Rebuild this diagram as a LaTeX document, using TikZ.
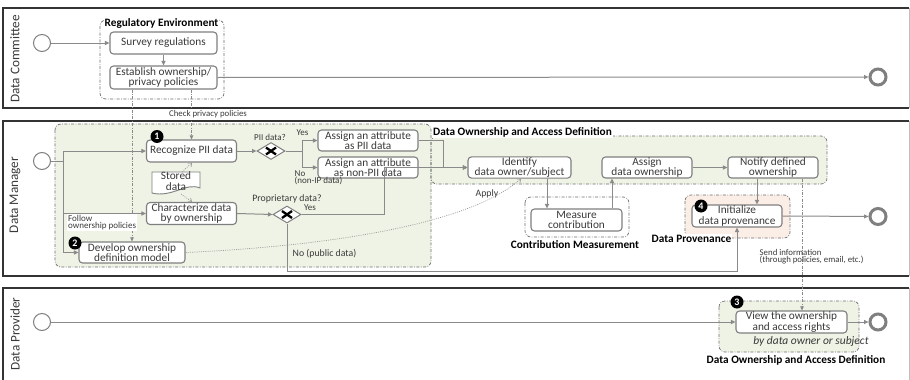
\documentclass[tikz,border=0pt]{standalone}
\usepackage{fontspec}
\setmainfont{Carlito}
\usetikzlibrary{shapes.geometric,arrows.meta,calc}

\definecolor{ink}{HTML}{3A3A3A}
\definecolor{boxgray}{HTML}{7F7F7F}
\definecolor{flowgray}{HTML}{8A8A8A}
\definecolor{grpgray}{HTML}{6E6E6E}
\definecolor{lanegray}{HTML}{333333}
\definecolor{greenfill}{HTML}{EEF3E5}
\definecolor{peachfill}{HTML}{FBEEE6}

\newcommand\fsz[2]{\fontsize{#1}{#2}\selectfont}

\begin{document}
\begin{tikzpicture}[x=1pt,y=-1pt,
  task/.style={draw=boxgray, line width=1.1pt, rounded corners=3.5pt, fill=white,
    align=center, text=ink, font=\fsz{11.3}{10.4}, inner sep=0.5pt},
  flow/.style={draw=flowgray, line width=1pt, -{Triangle[length=4.5pt,width=4pt]}},
  flowline/.style={draw=flowgray, line width=1pt},
  msg/.style={draw=flowgray, line width=0.7pt,
    dash pattern=on 3pt off 1.5pt on 0.7pt off 1.5pt, -{Triangle[length=4pt,width=3.5pt]}},
  assoc/.style={draw=flowgray!85, line width=0.7pt, dash pattern=on 1pt off 1.2pt,
    -{Straight Barb[length=3pt,width=5pt]}},
  grp/.style={draw=grpgray, line width=0.7pt,
    dash pattern=on 3pt off 1.5pt on 0.7pt off 1.5pt, rounded corners=6pt},
  grplabel/.style={font=\bfseries\fsz{11.3}{11}, text=black, fill=white, inner sep=1pt},
  lbl/.style={font=\fsz{9}{7.5}, text=ink, inner sep=0.5pt, align=left},
  lanelabel/.style={rotate=90, font=\fsz{13.2}{14}, text=ink},
  lane/.style={draw=lanegray, line width=1.3pt},
  badge/.style={circle, fill=black, text=white, font=\bfseries\fsz{10}{10},
    inner sep=0pt, minimum size=13pt},
  gw/.style={diamond, draw=boxgray, fill=white, line width=1pt, minimum width=28pt,
    minimum height=17pt, inner sep=0pt,
    path picture={\draw[black, line width=2.3pt]
      ([shift={(-5pt,-3.5pt)}]path picture bounding box.center) -- ([shift={(5pt,3.5pt)}]path picture bounding box.center)
      ([shift={(-5pt,3.5pt)}]path picture bounding box.center) -- ([shift={(5pt,-3.5pt)}]path picture bounding box.center);}},
  startev/.style={circle, draw=boxgray, line width=1pt, minimum size=17pt, inner sep=0pt, fill=white},
  endev/.style={circle, draw=boxgray, line width=3pt, minimum size=16pt, inner sep=0pt, fill=white},
]

\useasboundingbox (0,0) rectangle (910,380);
\fill[white] (0,0) rectangle (910,380);

% ---------- swimlanes ----------
\foreach \yt/\yb in {8/108, 121/276, 288/392}{
  \draw[lane] (909,\yt) -- (3,\yt) -- (3,\yb) -- (909,\yb);
  \draw[black!25, line width=0.6pt] (909,\yt) -- (909,\yb);
}
\node[lanelabel] (laneDC) at (15,59) {Data Committee};
\node[lanelabel] (laneDM) at (15,195) {Data Manager};
\node[lanelabel] (laneDP) at (15,334) {Data Provider};

% ---------- groups ----------
\fill[greenfill, rounded corners=6pt] (55,124) rectangle (431,267);
\fill[greenfill, rounded corners=6pt] (425,136) rectangle (827,184);
\fill[peachfill, rounded corners=6pt] (685,195) rectangle (790,238);
\fill[greenfill, rounded corners=6pt] (719,301) rectangle (859,352);
\draw[grp] (100,20) rectangle (224,99);
\draw[grp] (55,124) rectangle (431,267);
\draw[grp] (431,136) rectangle (827,184);
\draw[grp] (525,197) rectangle (629,237);
\draw[grp] (685,195) rectangle (790,238);
\draw[grp] (719,301) rectangle (859,352);

% ---------- events ----------
\node[startev] (s1) at (42,43) {};
\node[startev] (s2) at (42,161) {};
\node[startev] (s3) at (42,322) {};
\node[endev] (e1) at (878,77) {};
\node[endev] (e2) at (878,216.5) {};
\node[endev] (e3) at (878,322) {};

% ---------- tasks ----------
\node[task, minimum width=107pt, minimum height=22pt] (survey) at (163.5,43) {Survey regulations};
\node[task, minimum width=107pt, minimum height=23pt] (establish) at (163.5,77.5) {Establish ownership/\\privacy policies};
\node[task, minimum width=90pt, minimum height=22pt] (recognize) at (191.5,151) {Recognize PII data};
\node[task, minimum width=90pt, minimum height=22pt] (characterize) at (191.5,213.5) {Characterize data\\by ownership};
\node[task, minimum width=106pt, minimum height=21pt] (develop) at (132,252.5) {Develop ownership\\definition model};
\node[task, minimum width=100pt, minimum height=21pt] (assignpii) at (368,140.5) {Assign an attribute\\as PII data};
\node[task, minimum width=100pt, minimum height=21pt] (assignnon) at (368,167.5) {Assign an attribute\\as non-PII data};
\node[task, minimum width=103pt, minimum height=21pt] (identify) at (519.5,167.5) {Identify\\data owner/subject};
\node[task, minimum width=91pt, minimum height=22pt] (measure) at (576.5,220) {Measure\\contribution};
\node[task, minimum width=90pt, minimum height=21pt] (assignown) at (647,167.5) {Assign\\data ownership};
\node[task, minimum width=90pt, minimum height=21pt] (notify) at (773,167.5) {Notify defined\\ownership};
\node[task, minimum width=90pt, minimum height=22pt] (initialize) at (737,216) {Initialize\\data provenance};
\node[task, minimum width=111pt, minimum height=22pt] (view) at (791.5,322) {View the ownership\\and access rights};

% ---------- gateways ----------
\node[gw] (gwpii) at (271,151) {};
\node[gw] (gwprop) at (287,214.5) {};

% ---------- data object ----------
\draw[draw=boxgray, line width=0.9pt, fill=white]
  (152,172) -- (200,172) -- (200,188) .. controls (186,182) and (172,198) .. (152,193) -- cycle;
\node[font=\fsz{11.3}{10.4}, text=ink, align=center, inner sep=0pt] (stored) at (176,181) {Stored\\data};

% ---------- sequence flows ----------
\draw[flow] (s1) -- (survey.west);
\draw[flow] (survey) -- (establish);
\draw[flow] (establish.east) -- (e1);

\coordinate (fork) at (63,161);
\draw[flowline] (s2) -- (fork);
\draw[flow] (fork) |- (recognize.west);
\draw[flow] (fork) |- (characterize.west);
\draw[flow] (fork) |- (develop.west);

\draw[flow] (recognize.east) -- (gwpii.west);
\coordinate (piisplit) at (302,151);
\draw[flowline] (gwpii.east) -- (piisplit);
\draw[flow] (piisplit) |- (assignpii.west);
\draw[flow] (piisplit) |- (assignnon.west);

\draw[flow] (assignpii.east) -- ++(25,0) |- (identify.west);
\draw[flow] (assignnon.east) -- (identify.west);

\draw[flow] (characterize.east) -- (gwprop.west);
\draw[flow] (gwprop.south) -- ++(0,47.5) -| (initialize.south);

\draw[flow] ([xshift=27.5pt]identify.south) -- ([xshift=27.5pt]identify.south |- measure.north);
\draw[flow] ([xshift=35.5pt]measure.north) -- ([xshift=35.5pt]measure.north |- assignown.south);
\draw[flow] (assignown.east) -- (notify.west);
\draw[flow] ([xshift=-16pt]notify.south) -- ([xshift=-16pt]notify.south |- initialize.north);
\draw[flow] (initialize.east) -- (e2);

\draw[flow] (s3) -- (view.west);
\draw[flow] (view.east) -- (e3);

% proprietary "Yes" path runs up into the non-PII task
\coordinate (propjoin) at (384,167.5);
\draw[flow] (gwprop.east) -| (propjoin) -- (identify.west);

% ---------- message flows ----------
\draw[msg] (establish.south -| recognize.north) -- (recognize.north);
\draw[msg] (establish.south -| develop.north) -- (develop.north);
\draw[msg] ([xshift=29pt]notify.south) -- ([xshift=29pt]notify.south |- view.north);

% ---------- associations ----------
\draw[assoc] (182,172) -- ([xshift=0.5pt]recognize.south);
\draw[assoc] (181,194) -- ([xshift=0.5pt]characterize.north);
\draw[assoc] (develop.east) .. controls (330,246) and (470,224) .. ([xshift=1.5pt]identify.south);

% ---------- labels ----------
\node[grplabel] (lreg) at (161.5,23) {Regulatory Environment};
\node[grplabel, anchor=west] (ldoad) at (432,132.5) {Data Ownership and Access Definition};
\node[grplabel] (lcontrib) at (575,245) {Contribution Measurement};
\node[grplabel] (lprov) at (691.5,238.5) {Data Provenance};
\node[grplabel, fill=none] (ldoad3) at (796,360) {Data Ownership and Access Definition};

\node[lbl, fill=white, inner sep=1pt] (lcheck) at (208,114.5) {\fsz{8.8}{8}Check privacy policies};
\node[lbl, fill=white, anchor=west, inner sep=1pt] (lfollow) at (67,222.5) {Follow\\ownership policies};
\node[lbl] (lpiiq) at (270,137.5) {PII data?};
\node[lbl] (lyes1) at (302.5,133) {Yes};
\node[lbl, anchor=west] (lno1) at (294,177.5) {No\\(non-IP data)};
\node[lbl, font=\fsz{9.8}{8}] (lpropq) at (287,198.5) {Proprietary data?};
\node[lbl] (lyes2) at (310,208) {Yes};
\node[lbl, anchor=west, font=\fsz{9.8}{8}] (lno2) at (292,254) {No (public data)};
\node[lbl, font=\fsz{9.8}{8}] (lapply) at (487,193.5) {Apply};
\node[lbl, anchor=west, font=\fsz{8.8}{7.2}] (lsend) at (759,257) {Send information\\(through policies, email, etc.)};
\node[font=\itshape\fsz{11.5}{11}, text=ink, inner sep=0pt] (lby) at (811,341.5) {by data owner or subject};

% ---------- badges ----------
\node[badge] (b1) at (157,136.5) {1};
\node[badge] (b2) at (75,243) {2};
\node[badge] (b3) at (737,302) {3};
\node[badge] (b4) at (701,206) {4};

\end{tikzpicture}
\end{document}
